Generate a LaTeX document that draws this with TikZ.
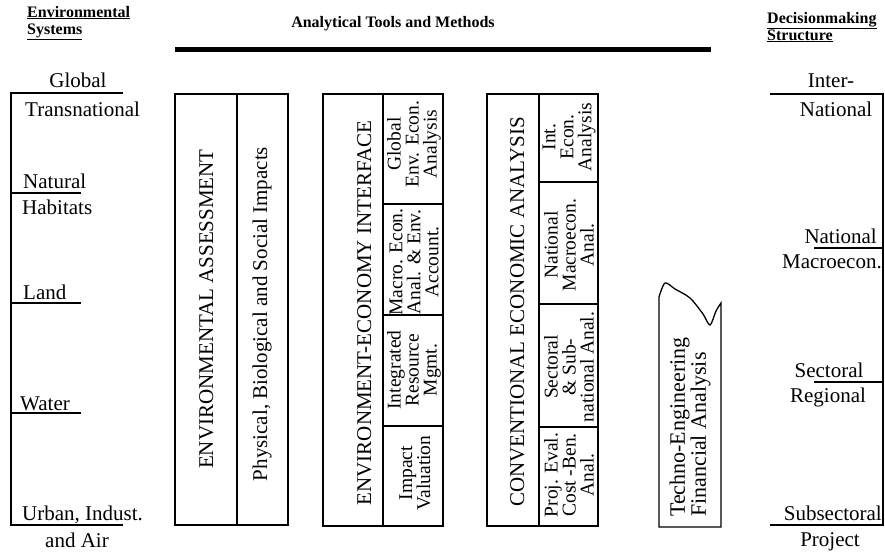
\documentclass[tikz,border=0pt]{standalone}
\usepackage{fontspec}
\setmainfont{Liberation Serif}
\usepackage{tikz}

\begin{document}
\begin{tikzpicture}[x=1pt, y=-1pt,
  box/.style={line width=1.6pt},
  lbl/.style={font=\fontsize{21}{22}\selectfont, inner sep=0pt},
  vtxt/.style={font=\fontsize{21}{22}\selectfont, rotate=90, inner sep=0pt, anchor=base},
  cell/.style={font=\fontsize{19.5}{18}\selectfont, rotate=90, align=center, inner sep=0pt},
  hdr/.style={font=\fontsize{16}{17}\selectfont\bfseries, inner sep=0pt}]
\useasboundingbox (0,0) rectangle (885,552);
\node[hdr, anchor=base west] (envsys) at (27,17) {\underline{Environmental}};
\node[hdr, anchor=base west] (envsys2) at (27,34) {\underline{Systems}};
\node[hdr, anchor=base] (tools) at (393,27) {Analytical Tools and Methods};
\node[hdr, anchor=base west] (decis) at (767,23) {\underline{Decisionmaking}};
\node[hdr, anchor=base west] (decis2) at (767,40) {\underline{Structure}};
\draw[line width=5pt] (175,49.5) -- (711,49.5);
\draw[box] (123,93) -- (11,93) -- (11,525) -- (123,525);
\foreach \yy in {193,303,413} \draw[box] (11,\yy) -- (81,\yy);
\node[lbl, anchor=base] (glob) at (78,87) {Global};
\node[lbl, anchor=base west] (trans) at (25,116) {Transnational};
\node[lbl, anchor=base west] (natur) at (23,188) {Natural};
\node[lbl, anchor=base west] (habit) at (22,214) {Habitats};
\node[lbl, anchor=base west] (land) at (23,299) {Land};
\node[lbl, anchor=base west] (water) at (20,410) {Water};
\node[lbl, anchor=base west] (urban) at (22,520) {Urban, Indust.};
\node[lbl, anchor=base] (air) at (77,547) {and Air};
\draw[box] (175,94) rectangle (288,525);
\draw[box] (237,94) -- (237,525);
\node[vtxt] (envass) at (213,309) {ENVIRONMENTAL ASSESSMENT};
\node[vtxt] (phys) at (267,314) {Physical, Biological and Social Impacts};
\draw[box] (323,94) rectangle (443,526);
\draw[box] (383,94) -- (383,526);
\foreach \yy in {204,315,426} \draw[box] (383,\yy) -- (443,\yy);
\node[vtxt] (enveco) at (371,313) {ENVIRONMENT-ECONOMY INTERFACE};
\node[cell] (globenv) at (414,144) {Global\\Env. Econ.\\Analysis};
\node[cell] (macro) at (414,262) {Macro. Econ.\\Anal. \& Env.\\Account.};
\node[cell] (intres) at (414,370) {Integrated\\Resource\\Mgmt.};
\node[cell] (impval) at (415,473) {Impact\\Valuation};
\draw[box] (487,94) rectangle (598,526);
\draw[box] (539,94) -- (539,526);
\foreach \yy in {182,304,427} \draw[box] (539,\yy) -- (598,\yy);
\node[vtxt] (conv) at (524,312) {CONVENTIONAL ECONOMIC ANALYSIS};
\node[cell] (intecon) at (569,137) {Int.\\Econ.\\Analysis};
\node[cell] (natmac) at (569,245) {National\\Macroecon.\\Anal.};
\node[cell] (sector) at (569,367) {Sectoral\\\& Sub-\\national Anal.};
\node[cell] (projev) at (569,475) {Proj. Eval.\\Cost -Ben.\\Anal.};
\draw[line width=1.3pt] plot[smooth] coordinates {(659,297) (665,283) (675,289) (690,298) (703,314) (710,325) (716,311) (721,303)} -- (721,527) -- (659,527) -- cycle;
\node[font=\fontsize{22}{18}\selectfont, rotate=90, align=left, inner sep=0pt, anchor=west] (techno) at (690,517) {Techno-Engineering\\Financial Analysis};
\draw[box] (770,94) -- (883,94) -- (883,525) -- (770,525);
\foreach \yy in {248,382} \draw[box] (814,\yy) -- (883,\yy);
\node[lbl, anchor=base] (inter) at (831,87) {Inter-};
\node[lbl, anchor=base] (internat) at (836,116) {National};
\node[lbl, anchor=base east] (natl) at (877,243) {National};
\node[lbl, anchor=base east] (macroec) at (882,268) {Macroecon.};
\node[lbl, anchor=base] (sectr) at (829,377) {Sectoral};
\node[lbl, anchor=base] (regnl) at (828,402) {Regional};
\node[lbl, anchor=base east] (subsec) at (882,520) {Subsectoral};
\node[lbl, anchor=base] (projct) at (830,546) {Project};
\end{tikzpicture}
\end{document}
